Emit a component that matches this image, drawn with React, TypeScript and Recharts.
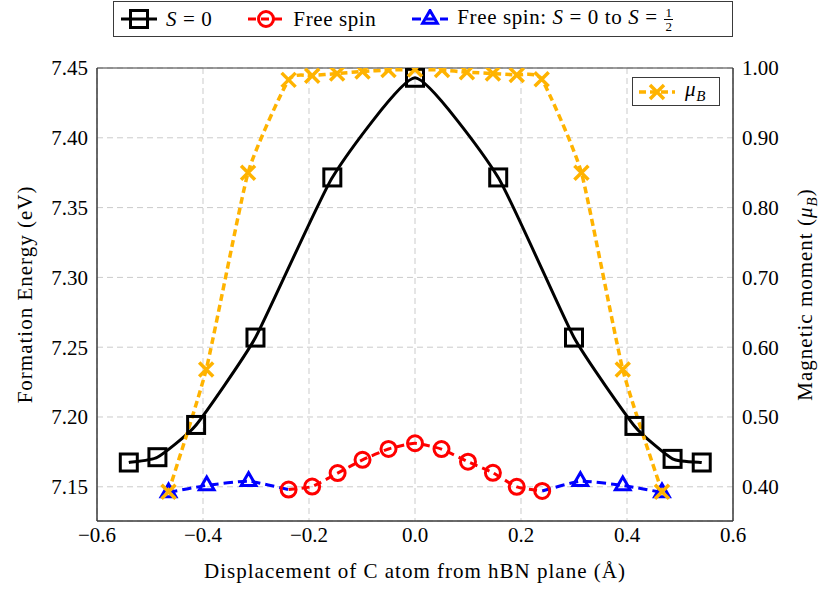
import { LineChart, Line, XAxis, YAxis, CartesianGrid, Legend, Label, ReferenceArea } from 'recharts';

// axis ticks
const xTicks = [-0.6, -0.4, -0.2, 0, 0.2, 0.4, 0.6];
const energyTicks = [7.15, 7.2, 7.25, 7.3, 7.35, 7.4, 7.45];
const momentTicks = [0.4, 0.5, 0.6, 0.7, 0.8, 0.9, 1.0];

// S = 0 (formation energy, eV)
const sZeroX = [-0.54, -0.486, -0.413, -0.301, -0.156, 0.0, 0.157, 0.3, 0.414, 0.486, 0.541];
const sZeroE = [7.1674, 7.1712, 7.1943, 7.2569, 7.3716, 7.443, 7.3716, 7.2569, 7.1936, 7.17, 7.1674];

// free spin (formation energy, eV)
const freeX = [-0.2385, -0.194, -0.146, -0.099, -0.05, 0.0, 0.05, 0.1, 0.147, 0.192, 0.24];
const freeE = [7.148, 7.1502, 7.1598, 7.1693, 7.1771, 7.1812, 7.177, 7.168, 7.16, 7.15, 7.147];

// free spin: S = 0 to S = 1/2 (formation energy, eV)
const transLeftX = [-0.465, -0.393, -0.314];
const transLeftE = [7.146, 7.151, 7.154];
const transRightX = [0.312, 0.392, 0.466];
const transRightE = [7.154, 7.151, 7.146];

// magnetic moment (mu_B)
const muX = [-0.465, -0.394, -0.315, -0.2385, -0.194, -0.147, -0.099, -0.05, 0.0, 0.051, 0.098, 0.147, 0.192, 0.239, 0.314, 0.392, 0.466];
const muV = [0.393, 0.568, 0.85, 0.983, 0.989, 0.992, 0.995, 0.997, 0.998, 0.997, 0.994, 0.992, 0.99, 0.984, 0.85, 0.568, 0.393];

const W = 830;
const H = 591;
const E_DOMAIN: [number, number] = [7.1255, 7.45];
const MU_DOMAIN: [number, number] = [0.351, 1.0];
const FONT = 'Liberation Serif, DejaVu Serif, serif';
const FRAME = '#3a3a3a';
const BLACK = '#000000';
const RED = '#ff0000';
const BLUE = '#0000ff';
const AMBER = '#ffb300';

const sZeroData = sZeroX.map((x, i) => ({ x, s0: sZeroE[i] }));
const freeData = freeX.map((x, i) => ({ x, free: freeE[i] }));
// the transition curves join the ends of the free-spin curve
const transData = [
  ...transLeftX.map((x, i) => ({ x, trans: transLeftE[i], joint: false })),
  { x: freeX[0], trans: freeE[0], joint: true },
  { x: 0, trans: null, joint: true },
  { x: freeX[freeX.length - 1], trans: freeE[freeE.length - 1], joint: true },
  ...transRightX.map((x, i) => ({ x, trans: transRightE[i], joint: false })),
];
const muData = muX.map((x, i) => ({ x, mu: muV[i] }));

// light cardinal spline, close to pgfplots' smooth lines
const softCurve = (k: number) => (context: any) => {
  let pts: [number, number][] = [];
  return {
    areaStart() {},
    areaEnd() {},
    lineStart() {
      pts = [];
    },
    lineEnd() {
      const n = pts.length;
      if (!n) return;
      context.moveTo(pts[0][0], pts[0][1]);
      for (let i = 0; i < n - 1; i++) {
        const p0 = pts[Math.max(i - 1, 0)];
        const p1 = pts[i];
        const p2 = pts[i + 1];
        const p3 = pts[Math.min(i + 2, n - 1)];
        context.bezierCurveTo(
          p1[0] + k * (p2[0] - p0[0]),
          p1[1] + k * (p2[1] - p0[1]),
          p2[0] - k * (p3[0] - p1[0]),
          p2[1] - k * (p3[1] - p1[1]),
          p2[0],
          p2[1],
        );
      }
    },
    point(x: number, y: number) {
      pts.push([+x, +y]);
    },
  };
};
const curve = softCurve(0.08);

type P = { cx: number; cy: number };

const Square = ({ cx, cy }: P) => (
  <rect x={cx - 8.5} y={cy - 8.5} width={17} height={17} fill="none" stroke={BLACK} strokeWidth={3} />
);
const Ring = ({ cx, cy }: P) => <circle cx={cx} cy={cy} r={7.5} fill="none" stroke={RED} strokeWidth={3} />;
const Tri = ({ cx, cy }: P) => {
  const r = 8.5;
  return (
    <polygon
      points={`${cx},${cy - r} ${cx + r * 0.866},${cy + r / 2} ${cx - r * 0.866},${cy + r / 2}`}
      fill="none"
      stroke={BLUE}
      strokeWidth={3}
    />
  );
};
const Cross = ({ cx, cy }: P) => {
  const a = 7;
  return (
    <path
      d={`M${cx - a},${cy - a}L${cx + a},${cy + a}M${cx - a},${cy + a}L${cx + a},${cy - a}`}
      stroke={AMBER}
      strokeWidth={3.5}
      fill="none"
    />
  );
};

const markers: Record<string, (p: P) => any> = { s0: Square, free: Ring, trans: Tri, mu: Cross };
const lineStyle: Record<string, { stroke: string; dash?: string; width: number }> = {
  s0: { stroke: BLACK, width: 3 },
  free: { stroke: RED, dash: '8 5', width: 3 },
  trans: { stroke: BLUE, dash: '9 5', width: 3 },
  mu: { stroke: AMBER, dash: '7 4', width: 3.5 },
};

const dotFor = (key: string) => (p: any) => {
  const M = markers[key];
  if (p.cx == null || p.cy == null || p.payload?.joint) return <g key={`${key}-${p.index}`} />;
  return (
    <g key={`${key}-${p.index}`}>
      <M cx={p.cx} cy={p.cy} />
    </g>
  );
};

const LegendMark = ({ k }: { k: string }) => {
  const s = lineStyle[k];
  const M = markers[k];
  return (
    <svg width={36} height={20} style={{ display: 'block' }}>
      <line x1={0} y1={10} x2={36} y2={10} stroke={s.stroke} strokeWidth={s.width} strokeDasharray={s.dash} />
      <M cx={18} cy={10} />
    </svg>
  );
};

const Half = () => (
  <span style={{ display: 'inline-flex', flexDirection: 'column', alignItems: 'center', fontSize: 13, lineHeight: 1, verticalAlign: 'middle', margin: '0 1px', letterSpacing: 0 }}>
    <span style={{ borderBottom: '1px solid #000', padding: '0 1px' }}>1</span>
    <span>2</span>
  </span>
);

const labelFor: Record<string, any> = {
  s0: (
    <span>
      <i>S</i> = 0
    </span>
  ),
  free: <span>Free spin</span>,
  trans: (
    <span>
      Free spin: <i>S</i> = 0 to <i>S</i> = <Half />
    </span>
  ),
  mu: (
    <span>
      <i>μ</i>
      <sub style={{ fontSize: 15 }}>
        <i>B</i>
      </sub>
    </span>
  ),
};

const order = ['s0', 'free', 'trans'];

const renderLegend = ({ payload }: any) => {
  const items = (payload || []) as any[];
  const top = order.filter((k) => items.some((it) => it.dataKey === k));
  const inner = items.filter((it) => it.dataKey === 'mu');
  return (
    <div style={{ position: 'relative', width: W, height: H, fontFamily: FONT, fontSize: 21, color: '#000', letterSpacing: 0.6 }}>
      <div
        style={{
          position: 'absolute',
          left: 113,
          top: 1,
          width: 620,
          height: 36,
          boxSizing: 'border-box',
          border: `1px solid ${FRAME}`,
          background: '#fff',
          display: 'flex',
          alignItems: 'center',
          paddingLeft: 7,
          gap: 36,
        }}
      >
        {top.map((k) => (
          <div key={k} style={{ display: 'flex', alignItems: 'center', gap: 9, whiteSpace: 'nowrap' }}>
            <LegendMark k={k} />
            {labelFor[k]}
          </div>
        ))}
      </div>
      {inner.map((it) => (
        <div
          key="mu"
          style={{
            position: 'absolute',
            left: 632,
            top: 77,
            width: 88,
            height: 29,
            boxSizing: 'border-box',
            border: `1px solid ${FRAME}`,
            background: '#fff',
            display: 'flex',
            alignItems: 'center',
            paddingLeft: 6,
            gap: 10,
          }}
        >
          <LegendMark k={it.dataKey} />
          {labelFor.mu}
        </div>
      ))}
    </div>
  );
};

const tickStyle = { fontFamily: FONT, fontSize: 21, fill: '#000' };
const titleStyle = { fontFamily: FONT, letterSpacing: 1 };
const fmtX = (v: number) => (v < 0 ? `−${Math.abs(v).toFixed(1)}` : v.toFixed(1));

export default function App() {
  return (
    <div style={{ position: 'absolute', left: 0, top: 0, width: W, height: H, background: '#fff', fontFamily: FONT }}>
      <LineChart width={W} height={H} margin={{ top: 68, right: 0, bottom: 0, left: 0 }} style={{ fontFamily: FONT }}>
        <CartesianGrid yAxisId="left" stroke="#cbcbcb" strokeDasharray="6 4" strokeWidth={1} />
        <XAxis
          type="number"
          dataKey="x"
          domain={[-0.6, 0.6]}
          ticks={xTicks}
          allowDataOverflow
          height={70}
          tickFormatter={fmtX}
          tick={tickStyle}
          tickLine={false}
          tickSize={0}
          tickMargin={6}
          axisLine={{ stroke: FRAME }}
        >
          <Label
            content={({ viewBox }: any) => (
              <text x={viewBox.x + viewBox.width / 2} y={viewBox.y + 57} textAnchor="middle" style={titleStyle} fontSize={21} fill="#000">
                Displacement of C atom from hBN plane (Å)
              </text>
            )}
          />
        </XAxis>
        <YAxis
          yAxisId="left"
          type="number"
          domain={E_DOMAIN}
          ticks={energyTicks}
          allowDataOverflow
          width={97}
          tickFormatter={(v: number) => v.toFixed(2)}
          tick={tickStyle}
          tickLine={false}
          tickSize={0}
          tickMargin={9}
          axisLine={{ stroke: FRAME }}
        >
          <Label
            content={({ viewBox }: any) => {
              const x = viewBox.x + 32;
              const y = viewBox.y + viewBox.height / 2;
              return (
                <text x={x} y={y} transform={`rotate(-90 ${x} ${y})`} textAnchor="middle" style={titleStyle} fontSize={21} fill="#000">
                  Formation Energy (eV)
                </text>
              );
            }}
          />
        </YAxis>
        <YAxis
          yAxisId="right"
          orientation="right"
          type="number"
          domain={MU_DOMAIN}
          ticks={momentTicks}
          allowDataOverflow
          width={97}
          tickFormatter={(v: number) => v.toFixed(2)}
          tick={tickStyle}
          tickLine={false}
          tickSize={0}
          tickMargin={9}
          axisLine={{ stroke: FRAME }}
        >
          <Label
            content={({ viewBox }: any) => {
              const x = viewBox.x + 79;
              const y = viewBox.y + viewBox.height / 2;
              return (
                <text x={x} y={y} transform={`rotate(-90 ${x} ${y})`} textAnchor="middle" style={titleStyle} fontSize={21} fill="#000">
                  Magnetic moment (<tspan fontStyle="italic">μ</tspan>
                  <tspan fontStyle="italic" fontSize={15} dy={5}>B</tspan>
                  <tspan dy={-5}>)</tspan>
                </text>
              );
            }}
          />
        </YAxis>
        <ReferenceArea
          yAxisId="left"
          x1={-0.6}
          x2={0.6}
          y1={E_DOMAIN[0]}
          y2={E_DOMAIN[1]}
          fill="none"
          stroke={FRAME}
          strokeWidth={1}
          ifOverflow="visible"
        />
        <Legend content={renderLegend} verticalAlign="middle" align="center" layout="horizontal" wrapperStyle={{ left: 0, top: 0, width: W, height: H, pointerEvents: 'none' }} />
        <Line
          yAxisId="left"
          data={transData}
          dataKey="trans"
          name="Free spin: S = 0 to S = 1/2"
          type={curve as any}
          stroke={BLUE}
          strokeWidth={3}
          strokeDasharray="9 5"
          dot={dotFor('trans')}
          activeDot={false}
          isAnimationActive={false}
        />
        <Line
          yAxisId="left"
          data={freeData}
          dataKey="free"
          name="Free spin"
          type={curve as any}
          stroke={RED}
          strokeWidth={3}
          strokeDasharray="8 5"
          dot={dotFor('free')}
          activeDot={false}
          isAnimationActive={false}
        />
        <Line
          yAxisId="left"
          data={sZeroData}
          dataKey="s0"
          name="S = 0"
          type={curve as any}
          stroke={BLACK}
          strokeWidth={3}
          dot={dotFor('s0')}
          activeDot={false}
          isAnimationActive={false}
        />
        <Line
          yAxisId="right"
          data={muData}
          dataKey="mu"
          name="μB"
          type={curve as any}
          stroke={AMBER}
          strokeWidth={3.5}
          strokeDasharray="7 4"
          dot={dotFor('mu')}
          activeDot={false}
          isAnimationActive={false}
        />
      </LineChart>
    </div>
  );
}
